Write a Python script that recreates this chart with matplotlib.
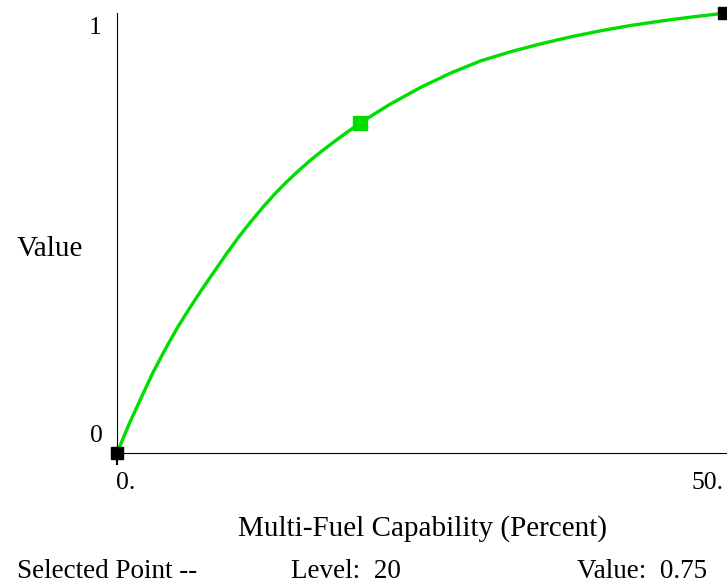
import matplotlib
matplotlib.use("Agg")
import matplotlib.pyplot as plt

# lookup curve
level = [0, 1, 2, 3, 4, 5, 6, 7, 8, 9, 10, 11, 12, 13, 14, 15, 16, 17, 18, 19, 20,
         22.5, 25, 27.5, 30, 32.5, 35, 37.5, 40, 42.5, 45, 47.5, 50]
value = [0, 0.066, 0.126, 0.185, 0.237, 0.286, 0.330, 0.372, 0.412, 0.452, 0.490,
         0.525, 0.558, 0.589, 0.617, 0.643, 0.667, 0.689, 0.710, 0.730, 0.75,
         0.793, 0.831, 0.864, 0.892, 0.913, 0.931, 0.947, 0.961, 0.973, 0.983,
         0.992, 1.0]
end_points_x = [0, 50]
end_points_y = [0, 1.0]
sel_x = [20]
sel_y = [0.75]

x_label = "Multi-Fuel Capability (Percent)"
y_label = "Value"
x_ticks = ["0.", "50."]
y_ticks = ["0", "1"]

W, H = 727, 584
plt.rcParams['font.family'] = ['Liberation Serif', 'DejaVu Serif']
fig = plt.figure(figsize=(W / 100, H / 100), dpi=100)

def fx(px):
    return px / W

def fy(py):
    return 1 - py / H

ax = fig.add_axes([fx(117), fy(453), 1 - fx(117), fy(13.3) - fy(453)])
ax.set_xlim(0, 50 * (727 - 117) / (723.5 - 117))
ax.set_ylim(0, 1)
for s in ['top', 'right']:
    ax.spines[s].set_visible(False)
ax.spines['left'].set_bounds(0, 1.0)
ax.set_xticks([])
ax.set_yticks([])

green = '#00dd00'
ax.plot(level, value, color=green, lw=2.4, clip_on=False, zorder=3,
        solid_joinstyle='round')
ax.plot(sel_x, sel_y, 's', color=green, ms=9.5, clip_on=False, zorder=4)
ax.plot(end_points_x, end_points_y, 's', color='black', ms=8.5, clip_on=False, zorder=4)
# small tick under the origin
ax.plot([0, 0], [0, -0.025], color='black', lw=1.5, clip_on=False)

fs_tick = 18.5
fs_lab = 21
fs_bot = 19.5
fig.text(fx(116), fy(483), x_ticks[0], ha='left', va='center', fontsize=fs_tick)
fig.text(fx(724), fy(483), x_ticks[1], ha='right', va='center', fontsize=fs_tick)
fig.text(fx(103), fy(436.5), y_ticks[0], ha='right', va='center', fontsize=fs_tick)
fig.text(fx(102), fy(28.5), y_ticks[1], ha='right', va='center', fontsize=fs_tick)

fig.text(fx(17), fy(249), y_label, ha='left', va='center', fontsize=fs_lab)
fig.text(fx(422), fy(529), x_label, ha='center', va='center', fontsize=fs_lab)

fig.text(fx(17), fy(571), "Selected Point --", ha='left', va='center', fontsize=fs_bot)
fig.text(fx(291), fy(571), "Level:  20", ha='left', va='center', fontsize=fs_bot)
fig.text(fx(577), fy(571), "Value:  0.75", ha='left', va='center', fontsize=fs_bot)

fig.savefig("out.png", dpi=100)
